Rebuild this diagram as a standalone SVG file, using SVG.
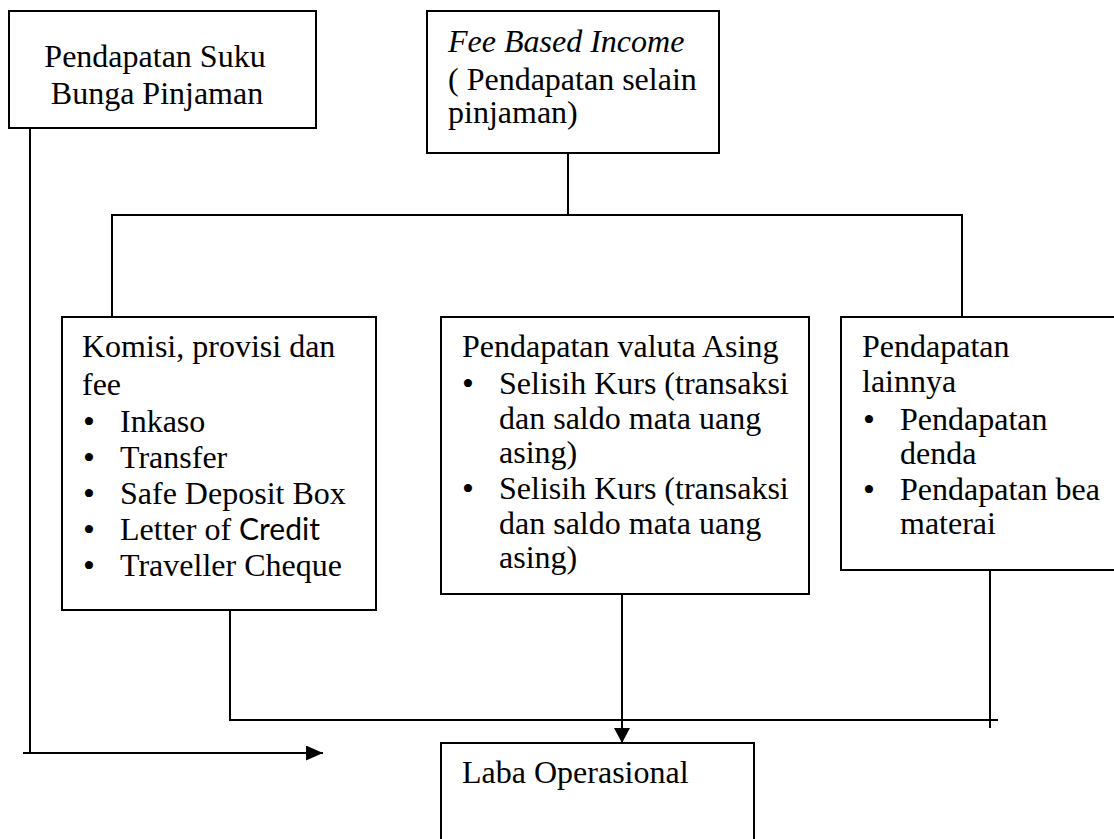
<svg xmlns="http://www.w3.org/2000/svg" width="1114" height="839" viewBox="0 0 1114 839">
<defs>
<marker id="arrL" markerWidth="17" markerHeight="15" refX="17" refY="7.5" orient="auto" markerUnits="userSpaceOnUse" viewBox="0 0 17 15">
<path d="M0,0 L17,7.5 L0,15 z" fill="#000"/>
</marker>
<marker id="arrD" markerWidth="15" markerHeight="16" refX="15" refY="8" orient="auto" markerUnits="userSpaceOnUse" viewBox="0 0 15 16">
<path d="M0,0 L15,8 L0,16 z" fill="#000"/>
</marker>
</defs>
<style>
.box{fill:#fff;stroke:#000;stroke-width:2}
.ln{fill:none;stroke:#000;stroke-width:2}
.t{font-family:"Liberation Serif","Times New Roman",serif;font-size:32px;fill:#000}
.b{font-size:34px}
.sans{font-family:"Lato","Open Sans",sans-serif}
</style>
<rect width="1114" height="839" fill="#fff"/>
<g id="connectors">
<polyline class="ln" points="568,153 568,215"/>
<polyline class="ln" points="112,317 112,215 962,215 962,317"/>
<polyline class="ln" points="30,128 30,753"/>
<line class="ln" x1="23" y1="753" x2="323" y2="753" marker-end="url(#arrL)"/>
<polyline class="ln" points="230,610 230,720 998,720"/>
<line class="ln" x1="990" y1="570" x2="990" y2="728"/>
<line class="ln" x1="622" y1="572" x2="622" y2="743" marker-end="url(#arrD)"/>
</g>
<g id="node-bunga">
<rect class="box" x="9" y="11" width="307" height="117"/>
<text class="t" x="155" y="67" text-anchor="middle">Pendapatan Suku</text>
<text class="t" x="157" y="104" text-anchor="middle">Bunga Pinjaman</text>
</g>
<g id="node-fee">
<rect class="box" x="427" y="11" width="292" height="142"/>
<text class="t" x="448" y="52" font-style="italic">Fee Based Income</text>
<text class="t" x="448" y="90">( Pendapatan selain</text>
<text class="t" x="448" y="123">pinjaman)</text>
</g>
<g id="node-komisi">
<rect class="box" x="62" y="317" width="314" height="293"/>
<text class="t" x="82" y="357">Komisi, provisi dan</text>
<text class="t" x="82" y="395">fee</text>
<text class="t" y="432"><tspan class="b" x="83" dy="1">•</tspan><tspan x="120" dy="-1">Inkaso</tspan></text>
<text class="t" y="468"><tspan class="b" x="83" dy="1">•</tspan><tspan x="120" dy="-1">Transfer</tspan></text>
<text class="t" y="504"><tspan class="b" x="83" dy="1">•</tspan><tspan x="120" dy="-1">Safe Deposit Box</tspan></text>
<text class="t" y="540"><tspan class="b" x="83" dy="1">•</tspan><tspan x="120" dy="-1">Letter of </tspan><tspan class="sans" font-size="30">Credit</tspan></text>
<text class="t" y="576"><tspan class="b" x="83" dy="1">•</tspan><tspan x="120" dy="-1">Traveller Cheque</tspan></text>
</g>
<g id="node-valuta">
<rect class="box" x="441" y="317" width="368" height="277"/>
<text class="t" x="462" y="357">Pendapatan valuta Asing</text>
<text class="t" y="394"><tspan class="b" x="462" dy="1">•</tspan><tspan x="499" dy="-1">Selisih Kurs (transaksi</tspan></text>
<text class="t" x="499" y="429">dan saldo mata uang</text>
<text class="t" x="499" y="463">asing)</text>
<text class="t" y="499"><tspan class="b" x="462" dy="1">•</tspan><tspan x="499" dy="-1">Selisih Kurs (transaksi</tspan></text>
<text class="t" x="499" y="534">dan saldo mata uang</text>
<text class="t" x="499" y="568">asing)</text>
</g>
<g id="node-lainnya">
<rect class="box" x="841" y="317" width="290" height="253"/>
<text class="t" x="862" y="357">Pendapatan</text>
<text class="t" x="862" y="392">lainnya</text>
<text class="t" y="430"><tspan class="b" x="863" dy="1">•</tspan><tspan x="900" dy="-1">Pendapatan</tspan></text>
<text class="t" x="900" y="464">denda</text>
<text class="t" y="500"><tspan class="b" x="863" dy="1">•</tspan><tspan x="900" dy="-1">Pendapatan bea</tspan></text>
<text class="t" x="900" y="534">materai</text>
</g>
<g id="node-laba">
<rect class="box" x="441" y="743" width="313" height="120"/>
<text class="t" x="462" y="783">Laba Operasional</text>
</g>
</svg>
